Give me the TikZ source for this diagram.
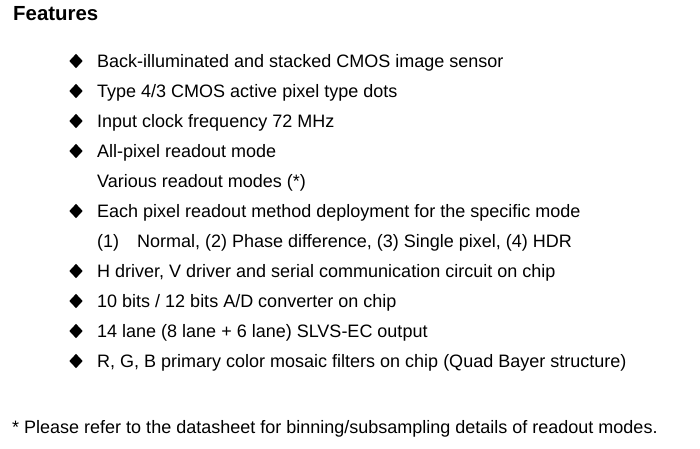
\documentclass[tikz,border=0pt]{standalone}
\usepackage{fontspec}
\setmainfont{Liberation Sans}
\usetikzlibrary{shapes.geometric,positioning}
\tikzset{
  txt/.style={anchor=base west, inner sep=0pt, font=\fontsize{18}{20}\selectfont},
  bullet/.style={diamond, fill=black, inner sep=0pt, minimum width=13.5pt, minimum height=14.5pt},
  title/.style={anchor=base west, inner sep=0pt, font=\fontsize{20.4}{22}\selectfont\bfseries}
}
\begin{document}
\begin{tikzpicture}[x=1pt,y=-1pt]
  \useasboundingbox (0,0) rectangle (700,448);
  % Define nodes
  \node[title] (head) at (13,20) {Features};
  \node[txt] (f1) at (97,67) {Back-illuminated and stacked CMOS image sensor};
  \node[txt] (f2) at (97,97) {Type 4/3 CMOS active pixel type dots};
  \node[txt] (f3) at (97,127) {Input clock frequency 72 MHz};
  \node[txt] (f4) at (97,157) {All-pixel readout mode};
  \node[txt] (f4b) at (97,187) {Various readout modes (*)};
  \node[txt] (f5) at (97,217) {Each pixel readout method deployment for the specific mode};
  \node[txt] (f5b) at (97,247) {(1)\hspace{1em}Normal, (2) Phase difference, (3) Single pixel, (4) HDR};
  \node[txt] (f6) at (97,277) {H driver, V driver and serial communication circuit on chip};
  \node[txt] (f7) at (97,307) {10 bits / 12 bits A/D converter on chip};
  \node[txt] (f8) at (97,337) {14 lane (8 lane + 6 lane) SLVS-EC output};
  \node[txt] (f9) at (97,367) {R, G, B primary color mosaic filters on chip (Quad Bayer structure)};
  \node[txt] (note) at (12,433) {* Please refer to the datasheet for binning/subsampling details of readout modes.};
  % Bullets
  \foreach \n in {f1,f2,f3,f4,f5,f6,f7,f8,f9}
    \node[bullet] (b\n) at ([xshift=-21pt,yshift=6pt]\n.base west) {};
\end{tikzpicture}
\end{document}
